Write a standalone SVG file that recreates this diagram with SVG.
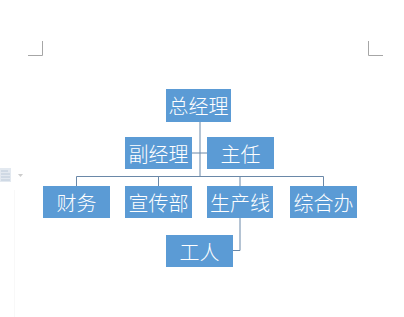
<svg xmlns="http://www.w3.org/2000/svg" width="404" height="317" viewBox="0 0 404 317">
<style>
.box{fill:#5b9bd5}
.t{fill:#ffffff;font-family:"Noto Sans CJK SC","Noto Sans CJK JP",sans-serif;font-size:20px;font-weight:300;text-anchor:middle;dominant-baseline:central}
.ln{stroke:#6a88a8;stroke-width:1;fill:none}
.mk{stroke:#a6a6a6;stroke-width:1;fill:none}
</style>
<rect width="404" height="317" fill="#ffffff"/>
<path class="mk" d="M28 55.5H42.5V41M383 55.5H368.5V41"/>
<line x1="14.5" y1="190" x2="14.5" y2="317" stroke="#f8f8f8"/>
<g id="icon">
<rect x="0" y="168" width="11" height="14" fill="#e3e9f0"/>
<path d="M1 171h7M1 174h9M1 177h9M1 180h9" stroke="#bccad9" stroke-width="1"/>
<path d="M18 174h5l-2.5 3z" fill="#cccccc"/>
</g>
<g id="connectors">
<path class="ln" d="M200 122V177M192 153H207M76.5 186V176.5H323.5V186M158.5 176.5V186M240 176.5V186M240 218V250.5H233"/>
</g>
<g id="n-zjl"><rect class="box" x="166" y="89" width="65" height="33"/><text class="t" x="198.5" y="105.5">总经理</text></g>
<g id="n-fjl"><rect class="box" x="125" y="137" width="67" height="32"/><text class="t" x="158.5" y="153">副经理</text></g>
<g id="n-zr"><rect class="box" x="207" y="137" width="67" height="32"/><text class="t" x="240.5" y="153">主任</text></g>
<g id="n-cw"><rect class="box" x="43" y="186" width="67" height="32"/><text class="t" x="76.5" y="202">财务</text></g>
<g id="n-xcb"><rect class="box" x="125" y="186" width="67" height="32"/><text class="t" x="158.5" y="202">宣传部</text></g>
<g id="n-scx"><rect class="box" x="207" y="186" width="66" height="32"/><text class="t" x="240" y="202">生产线</text></g>
<g id="n-zhb"><rect class="box" x="290" y="186" width="67" height="32"/><text class="t" x="323.5" y="202">综合办</text></g>
<g id="n-gr"><rect class="box" x="166" y="235" width="67" height="32"/><text class="t" x="199.5" y="251">工人</text></g>
</svg>
